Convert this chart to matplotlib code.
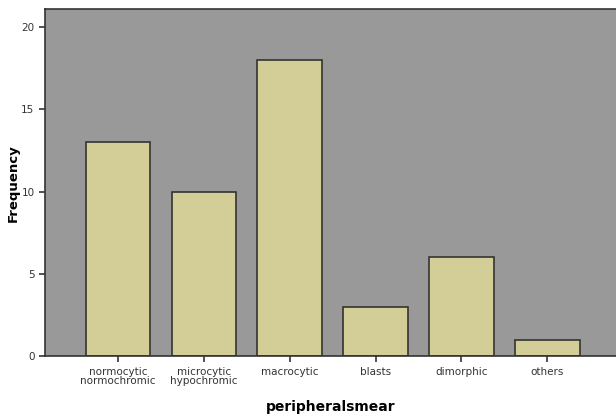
import matplotlib.pyplot as plt

categories = ["normocytic\nnormochromic", "microcytic\nhypochromic", "macrocytic",
              "blasts", "dimorphic", "others"]
frequency = [13, 10, 18, 3, 6, 1]

fig = plt.figure(figsize=(6.16, 4.17), dpi=100)
ax = fig.add_axes([0.073, 0.146, 0.927, 0.832])
ax.set_facecolor("#999999")

x = range(len(categories))
ax.bar(x, frequency, width=0.75, color="#D3CE97", edgecolor="#333333", linewidth=1.2, zorder=2)

ax.set_xlim(-0.85, 5.8)
ax.set_ylim(0, 21.1)
ax.set_yticks([0, 5, 10, 15, 20])
ax.set_xticks(list(x))
ax.set_xticklabels(categories, fontsize=7.5, color="#333333", linespacing=0.9)
ax.tick_params(axis="y", labelsize=7.5, colors="#333333", length=4, width=1.2)
ax.tick_params(axis="x", length=4, width=1.2, colors="#333333")

for side in ["left", "bottom", "top"]:
    ax.spines[side].set_color("#333333")
    ax.spines[side].set_linewidth(1.2)
ax.spines["right"].set_visible(False)

ax.set_ylabel("Frequency", fontsize=9.5, fontweight="bold")
ax.yaxis.set_label_coords(-0.045, 0.5)
ax.set_xlabel("peripheralsmear", fontsize=10, fontweight="bold", labelpad=10)

fig.savefig("out.png", dpi=100)
